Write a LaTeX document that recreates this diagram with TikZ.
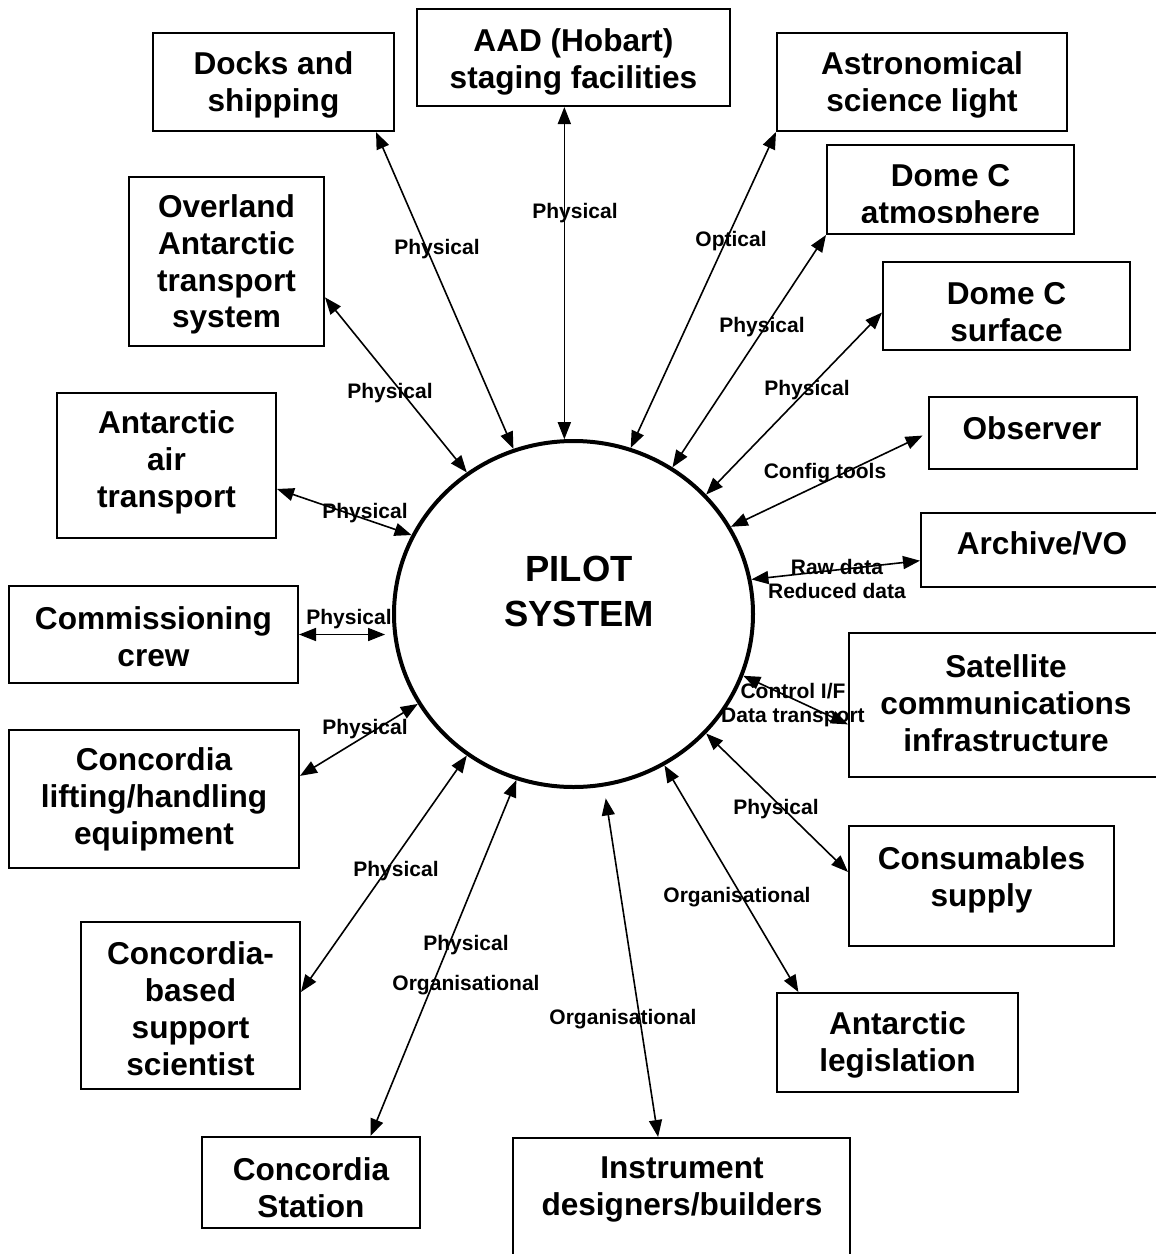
\documentclass[tikz,border=0pt]{standalone}
\usepackage{fontspec}
\setmainfont{Liberation Sans}
\usetikzlibrary{arrows.meta,shapes.geometric}

\tikzset{
  hub/.style={draw, ellipse, line width=2pt, minimum width=179.5pt, minimum height=173pt, inner sep=0pt},
  hubtext/.style={font=\fontsize{18.2pt}{22.5pt}\selectfont\bfseries, align=center, inner sep=0pt},
  box/.style={draw, line width=1pt, inner sep=0pt},
  boxtext/.style={font=\fontsize{15.8pt}{18.4pt}\selectfont\bfseries, align=center, inner sep=0pt},
  flow/.style={font=\fontsize{10.5pt}{12pt}\selectfont\bfseries, align=center, inner sep=0pt},
  link/.style={<->, >={Triangle[length=8.5pt,width=6.5pt]}, line width=0.8pt},
}

\begin{document}
\begin{tikzpicture}[x=0.5pt,y=-0.5pt]
\useasboundingbox (0,0) rectangle (1156,1254);

% the system in the middle
\node[hub] (pilot) at (573.5,614) {};
\node[hubtext] (pilottext) at (579,591.5) {PILOT\\SYSTEM};

% external entities, frame first and then its text
\node[box, minimum width=120.5pt, minimum height=49pt] (docks) at (273.5,82) {};
\node[boxtext] (docks-t) at (273.5,84.5) {Docks and\\shipping};
\node[box, minimum width=156.5pt, minimum height=48.5pt] (aad) at (573.5,57.5) {};
\node[boxtext] (aad-t) at (573.5,61.5) {AAD (Hobart)\\staging facilities};
\node[box, minimum width=145pt, minimum height=49pt] (astro) at (922,82) {};
\node[boxtext] (astro-t) at (922,84.5) {Astronomical\\science light};
\node[box, minimum width=123.5pt, minimum height=44.5pt] (atmos) at (950.5,189.5) {};
\begin{scope}
\clip (827,145) rectangle (1074,222);
\node[boxtext] (atmos-t) at (950.5,197) {Dome C\\atmosphere};
\end{scope}
\node[box, minimum width=123.5pt, minimum height=44pt] (surface) at (1006.5,306) {};
\node[boxtext] (surface-t) at (1006.5,312) {Dome C\\surface};
\node[box, minimum width=104pt, minimum height=36pt] (observer) at (1033,433) {};
\node[boxtext] (observer-t) at (1032,428) {Observer};
\node[box, minimum width=121pt, minimum height=37pt] (archive) at (1042,550) {};
\node[boxtext] (archive-t) at (1042,543) {Archive/VO};
\node[box, minimum width=157pt, minimum height=72pt] (satellite) at (1006,705) {};
\node[boxtext] (satellite-t) at (1006,703) {Satellite\\communications\\infrastructure};
\node[box, minimum width=132.5pt, minimum height=60pt] (supply) at (981.5,886) {};
\node[boxtext] (supply-t) at (981.5,879.5) {Consumables\\supply};
\node[box, minimum width=120.5pt, minimum height=49.5pt] (legislation) at (897.5,1042.5) {};
\node[boxtext] (legislation-t) at (897.5,1044.5) {Antarctic\\legislation};
\node[box, minimum width=168.5pt, minimum height=71pt] (builders) at (681.5,1209) {};
\node[boxtext] (builders-t) at (682,1189.5) {Instrument\\designers/builders};
\node[box, minimum width=109pt, minimum height=45.5pt] (station) at (311,1182.5) {};
\node[boxtext] (station-t) at (311,1187.5) {Concordia\\Station};
\node[box, minimum width=109.5pt, minimum height=83.5pt] (scientist) at (190.5,1005.5) {};
\node[boxtext] (scientist-t) at (190.5,1008.5) {Concordia-\\based\\support\\scientist};
\node[box, minimum width=145pt, minimum height=69pt] (lifting) at (154,799) {};
\node[boxtext] (lifting-t) at (154,799.5) {Concordia\\lifting/handling\\equipment};
\node[box, minimum width=144.5pt, minimum height=48.5pt] (crew) at (153.5,634.5) {};
\node[boxtext] (crew-t) at (153.5,636.5) {Commissioning\\crew};
\node[box, minimum width=109.5pt, minimum height=72.5pt] (airport) at (166.5,465.5) {};
\node[boxtext] (airport-t) at (166.5,462.5) {Antarctic\\air\\transport};
\node[box, minimum width=97.5pt, minimum height=84.5pt] (overland) at (226.5,261.5) {};
\node[boxtext] (overland-t) at (226.5,264.5) {Overland\\Antarctic\\transport\\system};

% interfaces
\draw[link] (overland.-20.7) -- (pilot.127.5);
\draw[link] (docks.-26.9) -- (pilot.110.8);
\draw[link] (pilot.93.8 |- aad.south) -- (pilot.93.8);
\draw[link] (astro.south west) -- (pilot.71.9);
\draw[link] (atmos.south west) -- (pilot.56.8);
\draw[link] (surface.183.2) -- (pilot.42.1);
\draw[link, shorten <=3pt] (observer.west) -- (pilot.29);
\draw[link] (archive.185.7) -- (pilot.11.6);
\draw[link] (satellite.187.6) -- (pilot.-20.5);
\draw[link] (supply.174) -- (pilot.-42.2);
\draw[link] (legislation.153.1) -- (pilot.-59.1);
\draw[link, shorten >=6pt] (builders.108.8) -- (pilot.-80.8);
\draw[link] (station.38.2) -- (pilot.-109.2);
\draw[link] (scientist.7) -- (pilot.-127.7);
\draw[link] (lifting.9.4) -- (pilot.-150.8);
\draw[link, shorten >=4pt] (crew.east) -- (crew.east -| pilot.186);
\draw[link] (airport.-12.6) -- (pilot.154.8);

% interface labels
\node[flow] (l-overland) at (390,393) {Physical};
\node[flow] (l-docks) at (437,249) {Physical};
\node[flow] (l-aad) at (575,213) {Physical};
\node[flow] (l-astro) at (731,241) {Optical};
\node[flow] (l-atmos) at (762,327) {Physical};
\node[flow] (l-surface) at (807,390) {Physical};
\node[flow] (l-observer) at (825,473) {Config tools};
\node[flow] (l-archive) at (837,579) {Raw data\\Reduced data};
\node[flow] (l-satellite) at (793,705.5) {Control I/F\\Data transport};
\node[flow] (l-supply) at (776,809) {Physical};
\node[flow] (l-legislation) at (737,897) {Organisational};
\node[flow] (l-builders) at (623,1019) {Organisational};
\node[flow] (l-station) at (466,945) {Physical};
\node[flow] (l-station2) at (466,985) {Organisational};
\node[flow] (l-scientist) at (396,871) {Physical};
\node[flow] (l-lifting) at (365,729) {Physical};
\node[flow] (l-crew) at (349,619) {Physical};
\node[flow] (l-airport) at (365,513) {Physical};
\end{tikzpicture}
\end{document}
